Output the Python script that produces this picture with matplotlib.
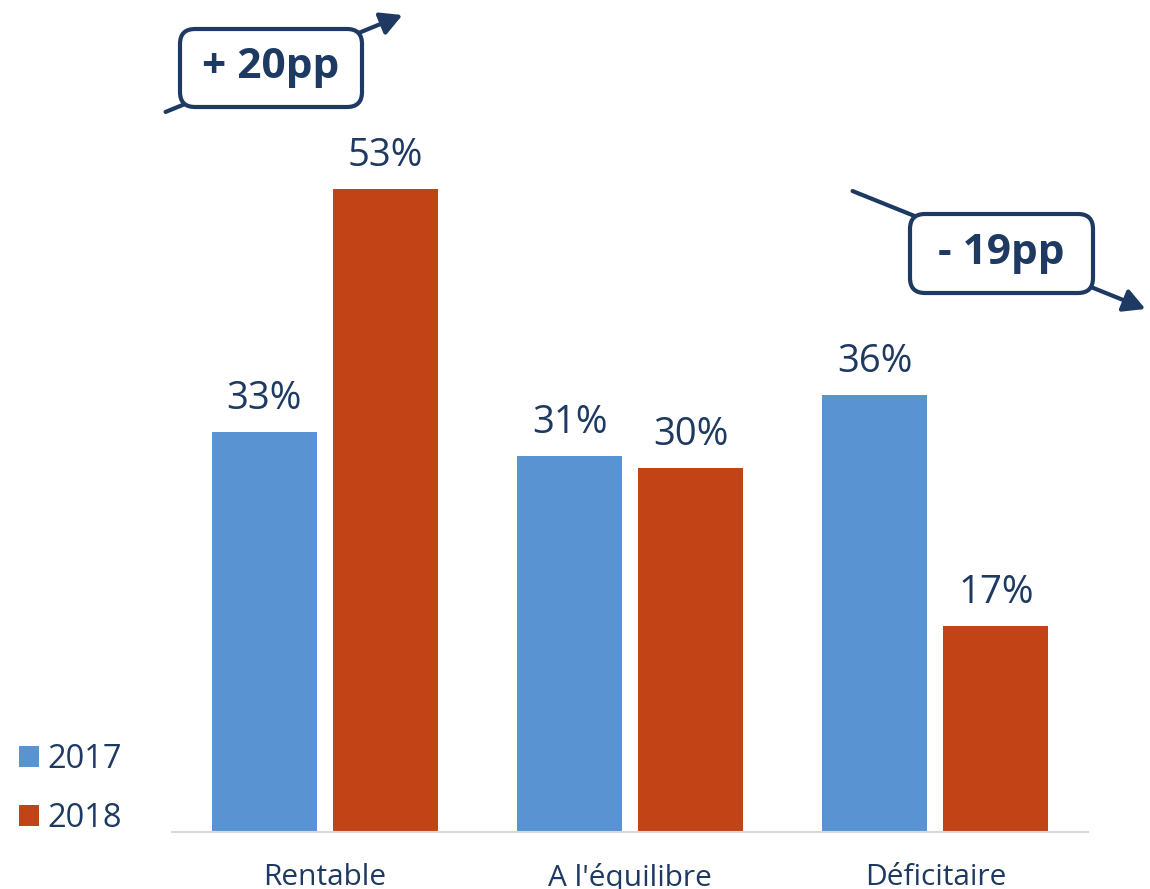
import matplotlib
matplotlib.use("Agg")
import matplotlib.pyplot as plt
import numpy as np
from matplotlib.patches import FancyBboxPatch, FancyArrowPatch

plt.rcParams['font.family'] = ['Open Sans', 'DejaVu Sans']

categories = ["Rentable", "A l'équilibre", "Déficitaire"]
years = ["2017", "2018"]
v2017 = [33, 31, 36]
v2018 = [53, 30, 17]

blue = "#5A93D1"
red = "#C24416"
navy = "#1E3A62"

fig = plt.figure(figsize=(11.5, 8.89), dpi=100)
ax = fig.add_axes([172/1150, (889-832)/889, 916/1150, 832/889])

x = np.arange(len(categories))
off = 0.198
w = 0.344
b1 = ax.bar(x - off, v2017, w, color=blue, label=years[0])
b2 = ax.bar(x + off, v2018, w, color=red, label=years[1])

for bars, vals in ((b1, v2017), (b2, v2018)):
    for r, v in zip(bars, vals):
        ax.annotate(f"{v}%", (r.get_x() + r.get_width()/2, v), xytext=(0, 10),
                    textcoords="offset points", ha="center", va="bottom",
                    fontsize=27.5, color=navy)

ax.set_xlim(-0.5, 2.5)
ax.set_ylim(0, 68.6)
ax.set_xticks(x)
ax.set_xticklabels(categories, fontsize=21.5, color=navy)
ax.tick_params(axis="x", length=0, pad=22)
ax.set_yticks([])
for s in ["top", "right", "left"]:
    ax.spines[s].set_visible(False)
ax.spines["bottom"].set_color("#D9D9D9")
ax.spines["bottom"].set_linewidth(1.5)

leg = fig.legend(loc="lower left", bbox_to_anchor=(-0.009, 0.028), frameon=False,
                 fontsize=23.5, labelcolor=navy, handlelength=0.6, handleheight=0.6,
                 handletextpad=0.28, labelspacing=0.78)

# annotation arrows + boxes (inches, figure space)
tr = fig.dpi_scale_trans
H = 8.89
arrows = [((1.63, H-1.13), (4.05, H-0.14)), ((8.50, H-1.90), (11.48, H-3.10))]
for p0, p1 in arrows:
    a = FancyArrowPatch(p0, p1, transform=tr, arrowstyle="-|>,head_length=6.5,head_width=3.5",
                        color=navy, lw=3, mutation_scale=2)
    fig.add_artist(a)

boxes = [(1.80, H-1.07, 1.82, 0.78, "+ 20pp"), (9.10, H-2.93, 1.83, 0.79, "- 19pp")]
for bx, by, bw, bh, txt in boxes:
    p = FancyBboxPatch((bx, by), bw, bh, boxstyle="round,pad=0,rounding_size=0.15",
                       transform=tr, facecolor="white", edgecolor=navy, lw=3, zorder=5)
    fig.add_artist(p)
    fig.text(bx + bw/2, by + bh/2, txt, transform=tr, ha="center", va="center",
             fontsize=30.5, fontweight="bold", color=navy, zorder=6)

fig.savefig("out.png", dpi=100)
